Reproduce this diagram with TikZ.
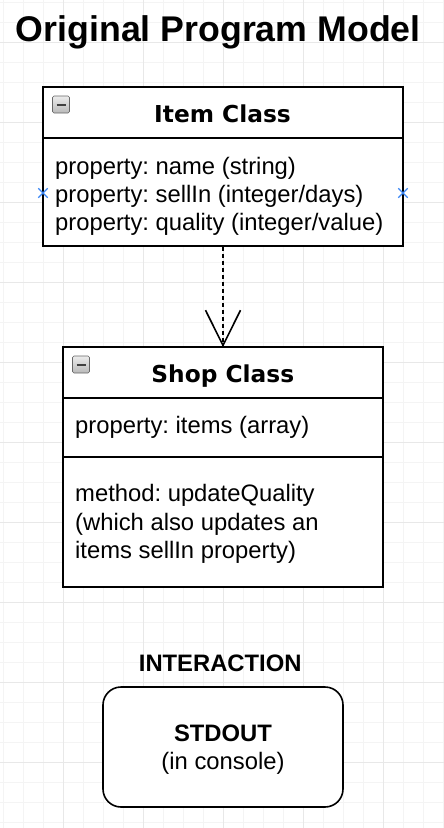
\documentclass[tikz,border=0pt]{standalone}
\usepackage{fontspec}
\setmainfont{Liberation Sans}
\newfontfamily\verdfont{DejaVu Sans}
\usetikzlibrary{arrows.meta,shapes.misc}
\definecolor{minorgrid}{HTML}{F4F4F4}
\definecolor{majorgrid}{HTML}{E8E8E8}
\definecolor{markblue}{HTML}{3A86F5}
\frenchspacing
\begin{document}
\begin{tikzpicture}[x=1bp,y=-1bp,
  boxline/.style={draw=black,line width=1.6bp},
  classbox/.style={boxline,fill=white,rectangle,inner sep=0pt},
  bodytext/.style={inner sep=0pt,anchor=base west,font=\fontsize{23.8bp}{28bp}\selectfont},
  headtext/.style={inner sep=0pt,anchor=base,font=\verdfont\bfseries\fontsize{23.3bp}{28bp}\selectfont},
  boldtext/.style={inner sep=0pt,anchor=base,font=\bfseries\fontsize{23.8bp}{28bp}\selectfont},
  marker/.style={cross out,draw=markblue,line width=1.3bp,minimum size=8bp,inner sep=0pt},
  iconbox/.style={draw=gray!80!black,line width=0.6bp,rounded corners=1.5bp,top color=gray!15,bottom color=gray!55},
  iconbar/.style={draw=black!75,line width=2bp},
  depline/.style={line width=1.8bp,dash pattern=on 4bp off 3bp},
  vhead/.style={line width=1.6bp,solid,line join=miter}
]
\useasboundingbox (0,0) rectangle (444,828);
\fill[white] (0,0) rectangle (444,828);
% grid
\foreach \i in {0,...,22} \draw[minorgrid,line width=1bp] (3.3+20*\i,0) -- (3.3+20*\i,828);
\foreach \j in {0,...,41} \draw[minorgrid,line width=1bp] (0,2.7+20*\j) -- (444,2.7+20*\j);
\foreach \i in {0,...,4} \draw[majorgrid,line width=1bp] (63.3+80*\i,0) -- (63.3+80*\i,828);
\foreach \j in {0,...,9} \draw[majorgrid,line width=1bp] (0,42.7+80*\j) -- (444,42.7+80*\j);

% title
\node (title) [inner sep=0pt,anchor=base,font=\bfseries\fontsize{35.7bp}{40bp}\selectfont] at (218.3,41.7) {Original Program Model};

% Item class
\node (item) [classbox,minimum width=360bp,minimum height=159bp] at (223,166.5) {};
\draw[boxline] ([yshift=-52bp]item.north west) -- ([yshift=-52bp]item.north east);
\draw[iconbox] (52.5,96) rectangle (69.5,113);
\draw[iconbar] (56.5,104.5) -- (65.5,104.5);
\node (itemtitle) [headtext] at (222.5,122.5) {Item Class};
\node (ip1) [bodytext] at (55,174.5) {property: name (string)};
\node (ip2) [bodytext] at (55,202.5) {property: sellIn (integer/days)};
\node (ip3) [bodytext] at (55,230.5) {property: quality (integer/value)};
\node (mk1) [marker] at (43,193) {};
\node (mk2) [marker] at (403,193) {};

% Shop class
\node (shop) [classbox,minimum width=320bp,minimum height=240bp] at (223,467) {};
\draw[boxline] ([yshift=-52bp]shop.north west) -- ([yshift=-52bp]shop.north east);
\draw[boxline] ([yshift=-111bp]shop.north west) -- ([yshift=-111bp]shop.north east);
\draw[iconbox] (72.5,356) rectangle (89.5,373);
\draw[iconbar] (76.5,364.5) -- (85.5,364.5);
\node (shoptitle) [headtext] at (222.8,382.5) {Shop Class};
\node (sp1) [bodytext] at (75,433) {property: items (array)};
\node (sm1) [bodytext] at (75,501.5) {method: updateQuality};
\node (sm2) [bodytext] at (75,530) {(which also updates an};
\node (sm3) [bodytext] at (75,558.5) {items sellIn property)};

% dependency arrow
\draw[depline] (item.south) -- (shop.north);
\draw[vhead] ([xshift=-17.5bp,yshift=36bp]shop.north) -- ([yshift=0.8bp]shop.north) -- ([xshift=17.5bp,yshift=36bp]shop.north);

% interaction
\node (inter) [boldtext] at (220.2,671.5) {INTERACTION};
\node (stdout) [boxline,fill=white,rounded corners=18bp,minimum width=240bp,minimum height=120bp,inner sep=0pt] at (223,747) {};
\node (stdouttitle) [boldtext] at (223,741.5) {STDOUT};
\node (stdoutsub) [inner sep=0pt,anchor=base,font=\fontsize{23.8bp}{28bp}\selectfont] at (223,769) {(in console)};
\end{tikzpicture}
\end{document}
